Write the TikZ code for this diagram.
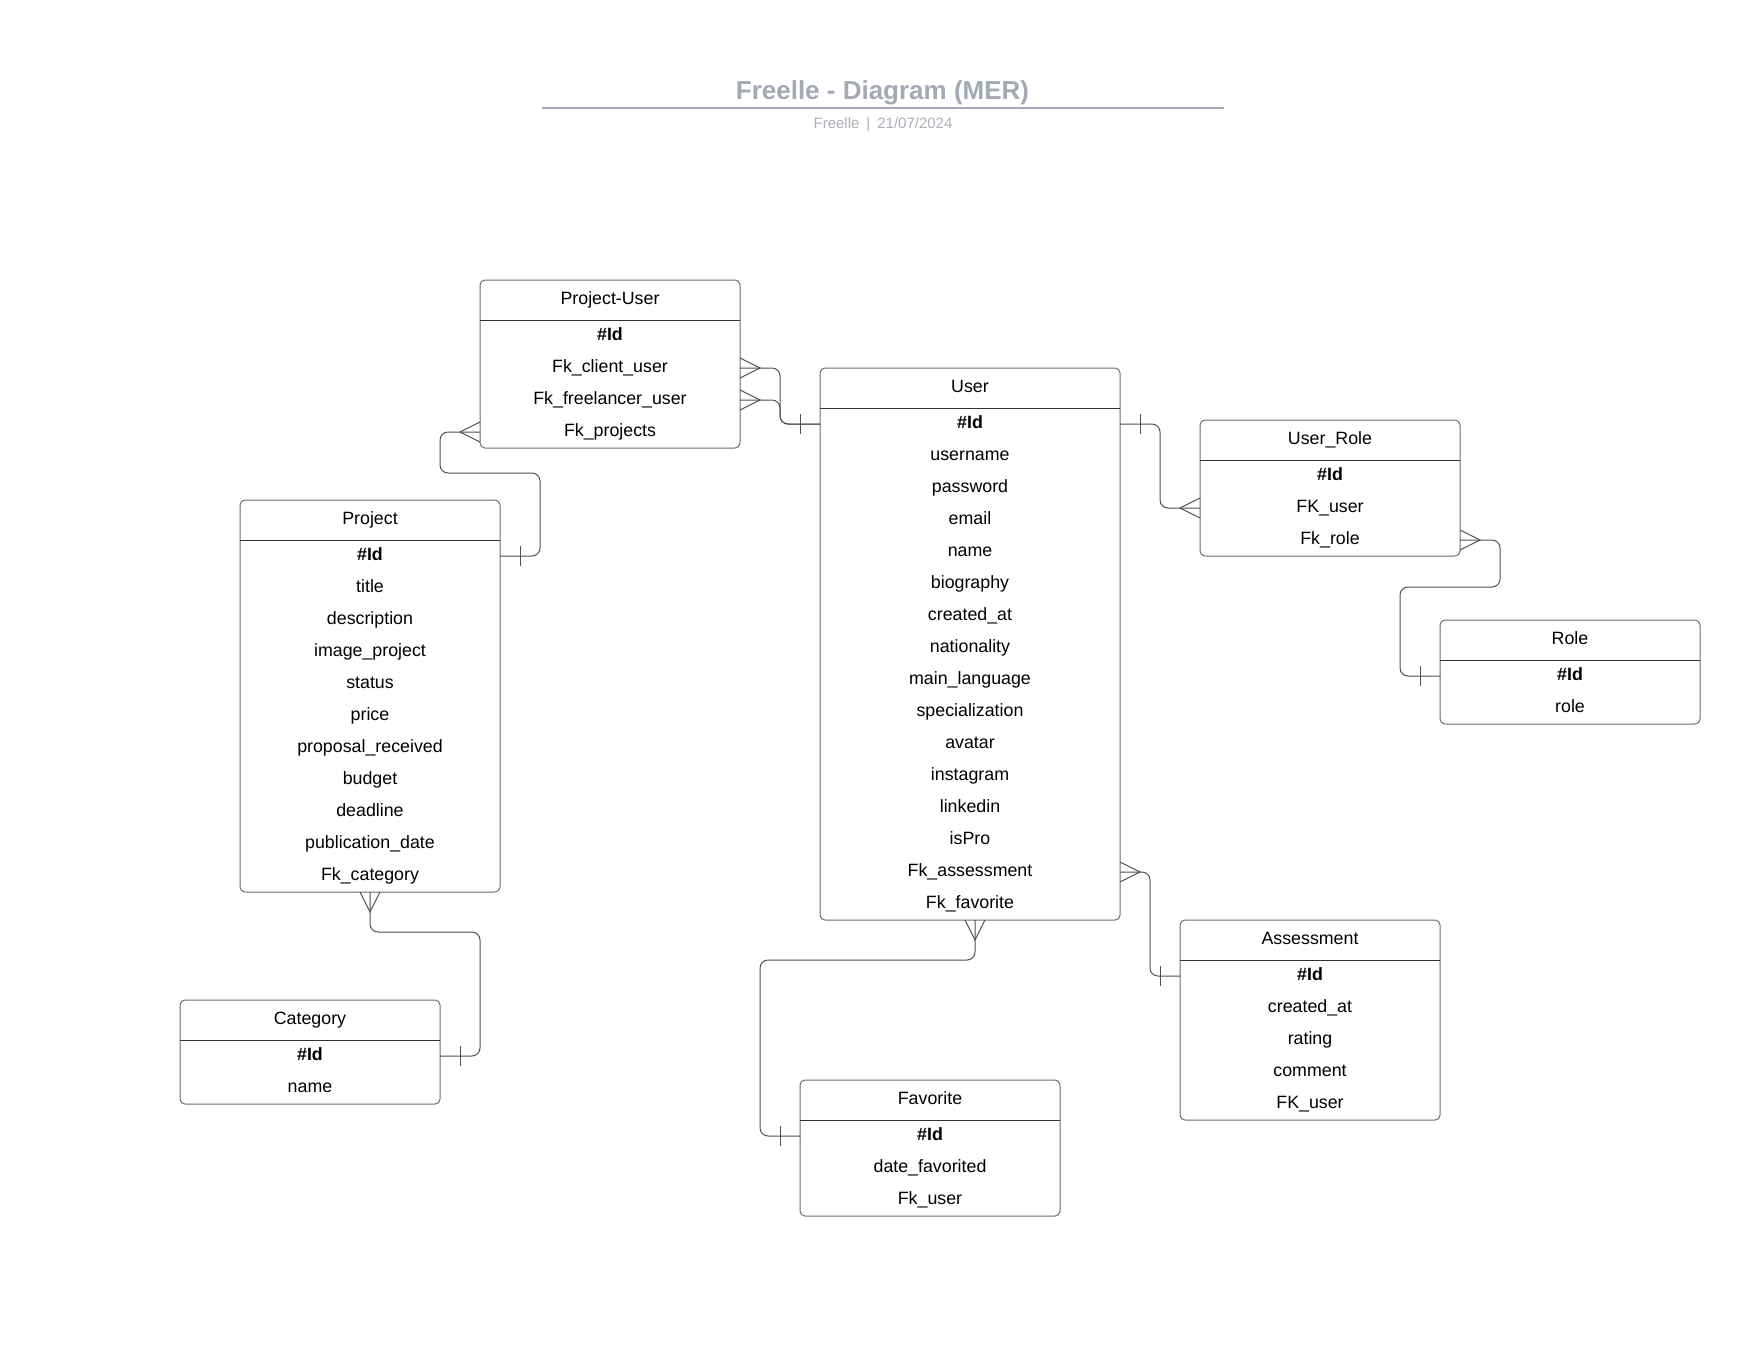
\documentclass[tikz,border=0pt]{standalone}
\usepackage{fontspec}
\setmainfont{Liberation Sans}
\usetikzlibrary{calc}
\definecolor{boxc}{HTML}{6E6E6E}
\definecolor{hdrc}{HTML}{333333}
\definecolor{connc}{HTML}{505050}
\definecolor{titlec}{HTML}{A4AAB5}
\definecolor{subc}{HTML}{ABB0B8}
\tikzset{
  entity/.style={draw=boxc, fill=white, line width=1pt, rounded corners=5pt, inner sep=0pt, outer sep=0pt},
  rowtxt/.style={inner sep=0pt, outer sep=0pt, text height=12pt, text depth=4pt, font=\fontsize{17.8}{20}\selectfont, text=black},
  conn/.style={draw=connc, line width=1pt, rounded corners=8pt},
  plainline/.style={draw=connc, line width=1pt},
  hdrline/.style={draw=hdrc, line width=1pt},
  pics/crowR/.style={code={\draw[plainline] (0,-10) -- (20,0) -- (0,10);}},
  pics/crowL/.style={code={\draw[plainline] (0,-10) -- (-20,0) -- (0,10);}},
  pics/crowD/.style={code={\draw[plainline] (-10,0) -- (0,20) -- (10,0);}},
  pics/tickV/.style={code={\draw[plainline] (0,-10) -- (0,10);}},
}
\newcommand\erbox[7]{%
  \node[entity, anchor=north west, minimum width=#4pt, minimum height=#5pt] (#1) at (#2,#3) {};
  \draw[hdrline] ($(#1.north west)+(0,40)$) -- ($(#1.north east)+(0,40)$);
  \node[rowtxt] (#1-t) at ($(#1.north)+(0,20)$) {#6};
  \foreach \r [count=\k from 0] in {#7} {
    \node[rowtxt] (#1-\k) at ($(#1.north)+(0,56+32*\k)$) {\r};
  }%
}
\begin{document}
\begin{tikzpicture}[x=1pt,y=-1pt]
\fill[white] (0,0) rectangle (1760,1360);
\useasboundingbox (0,0) rectangle (1760,1360);

% title
\node[font=\fontsize{26}{30}\selectfont\bfseries, text=titlec, anchor=base, inner sep=0pt] (title) at (882.5,99) {Freelle - Diagram (MER)};
\coordinate (tl) at (541.5,107.7);
\coordinate (tr) at (1223.5,107.7);
\draw[draw=titlec, line width=2pt] (tl) -- (tr);
\node[font=\fontsize{15}{18}\selectfont, text=subc, anchor=base, inner sep=0pt] (sub) at (883,128.5) {Freelle\hspace{7pt}|\hspace{7pt}21/07/2024};

% entities
\erbox{pu}{480}{280}{260}{168}{Project-User}{\textbf{\#Id},Fk\_client\_user,Fk\_freelancer\_user,Fk\_projects}
\erbox{pj}{240}{500}{260}{392}{Project}{\textbf{\#Id},title,description,image\_project,status,price,proposal\_received,budget,deadline,publication\_date,Fk\_category}
\erbox{cat}{180}{1000}{260}{104}{Category}{\textbf{\#Id},name}
\erbox{u}{820}{368}{300}{552}{User}{\textbf{\#Id},username,password,email,name,biography,created\_at,nationality,main\_language,specialization,avatar,instagram,linkedin,isPro,Fk\_assessment,Fk\_favorite}
\erbox{ur}{1200}{420}{260}{136}{User\_Role}{\textbf{\#Id},FK\_user,Fk\_role}
\erbox{ro}{1440}{620}{260}{104}{Role}{\textbf{\#Id},role}
\erbox{as}{1180}{920}{260}{200}{Assessment}{\textbf{\#Id},created\_at,rating,comment,FK\_user}
\erbox{fav}{800}{1080}{260}{136}{Favorite}{\textbf{\#Id},date\_favorited,Fk\_user}

% Project-User -> User
\draw[conn] (pu.east|-pu-1) -- ++(40,0) |- (u.west|-u-0);
\draw[conn] (pu.east|-pu-2) -- ++(40,0) |- (u.west|-u-0);
\pic at (pu.east|-pu-1) {crowR};
\pic at (pu.east|-pu-2) {crowR};
\pic at ($(u.west|-u-0)+(-20,0)$) {tickV};

% Project-User -> Project
\draw[conn] (pu.west|-pu-3) -- ++(-40,0) -- ++(0,41) -| ($(pj.east|-pj-0)+(40,0)$) -- (pj.east|-pj-0);
\pic at (pu.west|-pu-3) {crowL};
\pic at ($(pj.east|-pj-0)+(20,0)$) {tickV};

% Project -> Category
\draw[conn] (pj.south) -- ++(0,40) -| ($(cat.east|-cat-0)+(40,0)$) -- (cat.east|-cat-0);
\pic at (pj.south) {crowD};
\pic at ($(cat.east|-cat-0)+(20,0)$) {tickV};

% User -> User_Role
\draw[conn] (u.east|-u-0) -- ++(40,0) |- (ur.west|-ur-1);
\pic at ($(u.east|-u-0)+(20,0)$) {tickV};
\pic at (ur.west|-ur-1) {crowL};

% User_Role -> Role
\draw[conn] (ur.east|-ur-2) -- ++(40,0) -- ++(0,47) -| ($(ro.west|-ro-0)+(-40,0)$) -- (ro.west|-ro-0);
\pic at (ur.east|-ur-2) {crowR};
\pic at ($(ro.west|-ro-0)+(-20,0)$) {tickV};

% User -> Assessment
\draw[conn] (u.east|-u-14) -- ++(30,0) |- (as.west|-as-0);
\pic at (u.east|-u-14) {crowR};
\pic at ($(as.west|-as-0)+(-20,0)$) {tickV};

% User -> Favorite
\draw[conn] ($(u.south)+(5,0)$) -- ++(0,40) -| ($(fav.west|-fav-0)+(-40,0)$) -- (fav.west|-fav-0);
\pic at ($(u.south)+(5,0)$) {crowD};
\pic at ($(fav.west|-fav-0)+(-20,0)$) {tickV};
\end{tikzpicture}
\end{document}
